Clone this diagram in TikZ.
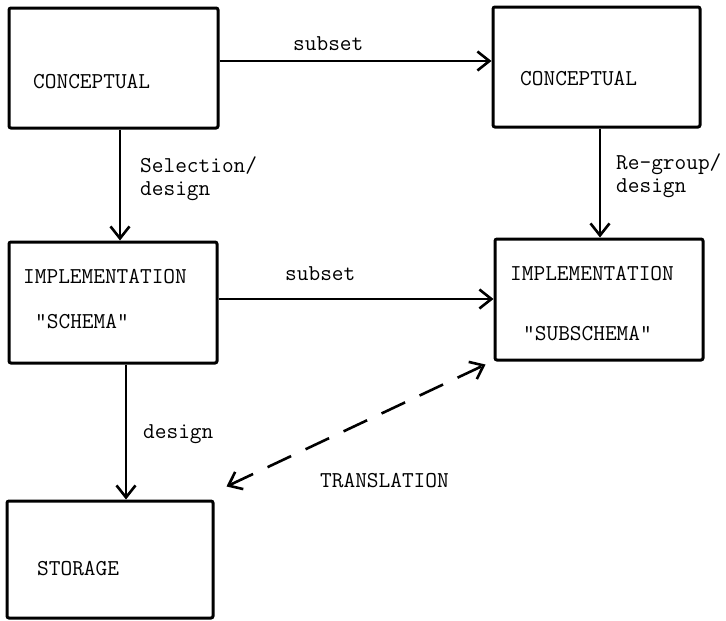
\documentclass[tikz,border=0pt]{standalone}
\usetikzlibrary{arrows.meta}
\begin{document}
\begin{tikzpicture}[x=1pt,y=-1pt,
  box/.style={draw, line width=3pt, rounded corners=2pt, inner sep=0pt, anchor=center},
  txt/.style={font=\fontsize{22.7}{23}\selectfont\ttfamily, inner sep=0pt, anchor=base west},
  arr/.style={line width=2.6pt, -{Straight Barb[length=12pt,width=19pt,line width=2.6pt]}},
  dbl/.style={line width=2.6pt, dash pattern=on 26pt off 16pt,
    {Straight Barb[length=12pt,width=19pt,line width=2.6pt]}-{Straight Barb[length=12pt,width=19pt,line width=2.6pt]}}]
\useasboundingbox (0,0) rectangle (726,621);

% boxes
\node[box, minimum width=209pt, minimum height=120pt] (b1) at (113.5,68) {};
\node[box, minimum width=207pt, minimum height=120pt] (b2) at (596.5,67) {};
\node[box, minimum width=208pt, minimum height=121pt] (b3) at (113,302.5) {};
\node[box, minimum width=208pt, minimum height=121pt] (b4) at (599,299.5) {};
\node[box, minimum width=206pt, minimum height=117pt] (b5) at (110,559.5) {};

% box texts
\node[txt] (t1) at (33,88) {CONCEPTUAL};
\node[txt] (t2) at (520,85) {CONCEPTUAL};
\node[txt] (t3) at (23,283) {IMPLEMENTATION};
\node[txt] (t3b) at (35,328) {"SCHEMA"};
\node[txt] (t4) at (510,280) {IMPLEMENTATION};
\node[txt] (t4b) at (523,340) {"SUBSCHEMA"};
\node[txt] (t5) at (37,575) {STORAGE};

% connectors
\draw[arr] ([yshift=7pt]b1.east) -- ([yshift=7pt]b1.east -| b2.west);
\draw[arr] ([xshift=6.5pt]b1.south) -- ([xshift=6.5pt]b1.south |- b3.north);
\draw[arr] ([xshift=3.5pt]b2.south) -- ([xshift=3.5pt]b2.south |- b4.north);
\draw[arr] ([yshift=3.5pt]b3.east) -- ([yshift=3.5pt]b3.east -| b4.west);
\draw[arr] ([xshift=13pt]b3.south) -- ([xshift=13pt]b3.south |- b5.north);
\draw[dbl] ([shift={(12pt,13pt)}]b5.north east) -- ([shift={(-8pt,-3pt)}]b4.south west);

% connector labels
\node[txt] (l1) at (293,50) {subset};
\node[txt] (l2) at (285,280) {subset};
\node[txt, align=left] (l3) at (140,195) {Selection/\\design};
\node[txt, align=left] (l4) at (616,192) {Re-group/\\design};
\node[txt] (l5) at (143,438) {design};
\node[txt] (l6) at (320,487) {TRANSLATION};
\end{tikzpicture}
\end{document}
